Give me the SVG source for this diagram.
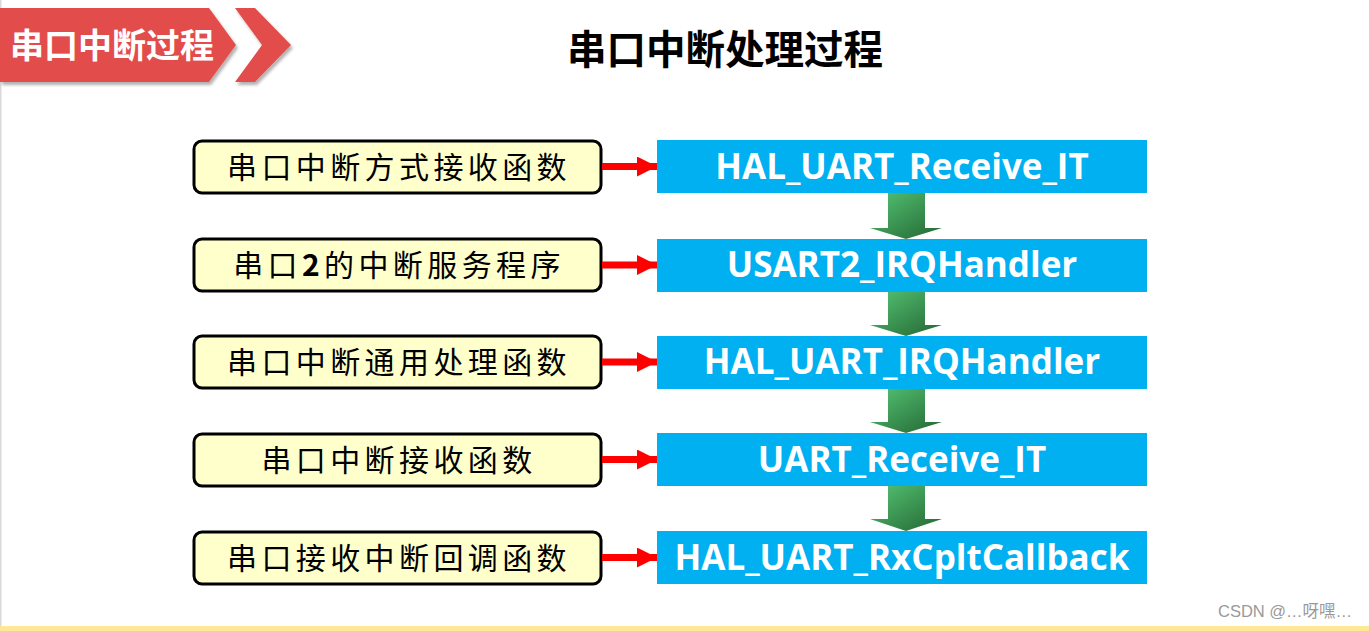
<svg xmlns="http://www.w3.org/2000/svg" width="1369" height="631" viewBox="0 0 1369 631">
<defs>
<linearGradient id="gg" x1="0" y1="0" x2="1" y2="1">
<stop offset="0" stop-color="#55c574"/>
<stop offset="1" stop-color="#236532"/>
</linearGradient>
<filter id="sh" x="-10%" y="-10%" width="130%" height="140%">
<feDropShadow dx="2" dy="3" stdDeviation="1.5" flood-color="#000" flood-opacity="0.3"/>
</filter>
<marker id="ra" viewBox="0 0 20 20" refX="20" refY="10" markerWidth="20" markerHeight="20" markerUnits="userSpaceOnUse" orient="auto">
<path d="M0,0 L20,10 L0,20 Z" fill="#ff0000"/>
</marker>
</defs>
<style>
.lb{fill:#ffffcc;stroke:#000;stroke-width:3}
.lt{font-family:"Noto Sans CJK SC",sans-serif;font-size:30px;fill:#000;text-anchor:middle;letter-spacing:4.4px}
.bb{fill:#00b0f0}
.bt{font-family:"Open Sans","Noto Sans",sans-serif;font-weight:bold;font-size:35px;fill:#fff;text-anchor:middle}
.ra{stroke:#ff0000;stroke-width:7;fill:none}
.ga{fill:url(#gg)}
</style>
<rect x="0" y="0" width="1369" height="631" fill="#fff"/>
<rect x="0" y="0" width="1.5" height="631" fill="#d9d9d9"/>
<rect x="0" y="626" width="1369" height="5" fill="#fee795"/>

<g id="header" filter="url(#sh)">
<polygon points="0,8 209,8 236,45 209,82 0,82" fill="#e24e4b"/>
<polygon points="235,8 255,8 291,45 255,82 235,82 262,45" fill="#e24e4b"/>
</g>
<text x="10" y="58" font-family="Noto Sans CJK SC,sans-serif" font-weight="bold" font-size="34" fill="#fff">串口中断过程</text>
<text x="725" y="64" font-family="Noto Sans CJK SC,sans-serif" font-weight="bold" font-size="39.5" fill="#000" text-anchor="middle">串口中断处理过程</text>

<g id="l1"><rect class="lb" x="194" y="141" width="407" height="52" rx="8"/><text class="lt" x="399" y="178">串口中断方式接收函数</text></g>
<g id="l2"><rect class="lb" x="194" y="239" width="407" height="52" rx="8"/><text class="lt" x="399" y="276">串口<tspan font-weight="bold">2</tspan>的中断服务程序</text></g>
<g id="l3"><rect class="lb" x="194" y="336" width="407" height="52" rx="8"/><text class="lt" x="399" y="373">串口中断通用处理函数</text></g>
<g id="l4"><rect class="lb" x="194" y="434" width="407" height="52" rx="8"/><text class="lt" x="399" y="471">串口中断接收函数</text></g>
<g id="l5"><rect class="lb" x="194" y="532" width="407" height="52" rx="8"/><text class="lt" x="399" y="569">串口接收中断回调函数</text></g>

<g id="b1"><rect class="bb" x="657" y="140" width="490" height="53"/><text class="bt" x="902" y="179">HAL_UART_Receive_IT</text></g>
<g id="b2"><rect class="bb" x="657" y="239" width="490" height="53"/><text class="bt" x="902" y="277">USART2_IRQHandler</text></g>
<g id="b3"><rect class="bb" x="657" y="336" width="490" height="53"/><text class="bt" x="902" y="374">HAL_UART_IRQHandler</text></g>
<g id="b4"><rect class="bb" x="657" y="433" width="490" height="53"/><text class="bt" x="902" y="472">UART_Receive_IT</text></g>
<g id="b5"><rect class="bb" x="657" y="531" width="490" height="53"/><text class="bt" x="902" y="570">HAL_UART_RxCpltCallback</text></g>

<g id="connectors">
<line class="ra" x1="602" y1="166.5" x2="657" y2="166.5" marker-end="url(#ra)"/>
<line class="ra" x1="602" y1="265" x2="657" y2="265" marker-end="url(#ra)"/>
<line class="ra" x1="602" y1="362" x2="657" y2="362" marker-end="url(#ra)"/>
<line class="ra" x1="602" y1="459.5" x2="657" y2="459.5" marker-end="url(#ra)"/>
<line class="ra" x1="602" y1="557.5" x2="657" y2="557.5" marker-end="url(#ra)"/>
<polygon class="ga" points="888,193 925,193 925,228 942,228 906,239 870,228 888,228"/>
<polygon class="ga" points="888,292 925,292 925,325 942,325 906,336 870,325 888,325"/>
<polygon class="ga" points="888,389 925,389 925,422 942,422 906,433 870,422 888,422"/>
<polygon class="ga" points="888,486 925,486 925,519 942,519 906,531 870,519 888,519"/>
</g>
<text x="1218" y="617" font-family="Liberation Sans,Noto Sans CJK SC,sans-serif" font-size="16.5" fill="#999">CSDN @…呀嘿…</text>
</svg>
